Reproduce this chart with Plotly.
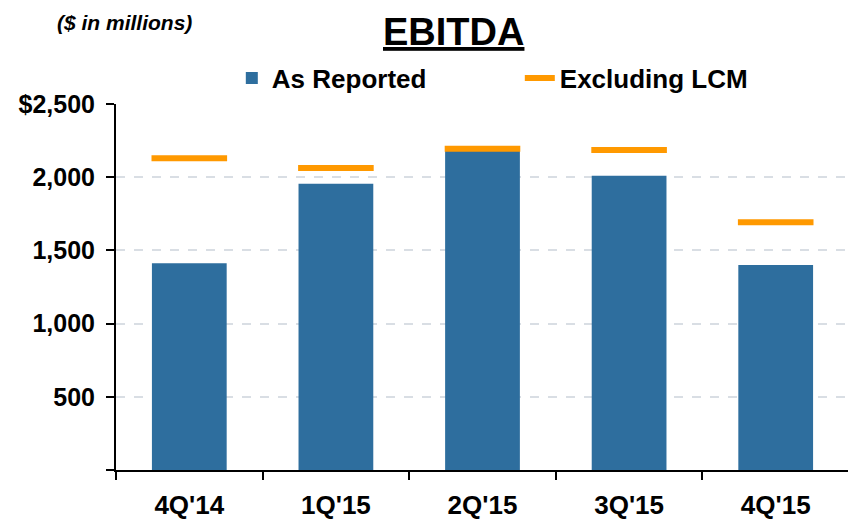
import plotly.graph_objects as go

quarters = ["4Q'14", "1Q'15", "2Q'15", "3Q'15", "4Q'15"]
as_reported = [1412, 1956, 2180, 2010, 1400]
excluding_lcm = [2130, 2062, 2195, 2185, 1693]
y_tick_vals = [0, 500, 1000, 1500, 2000, 2500]
y_tick_text = ["", "500", "1,000", "1,500", "2,000", "$2,500"]

BLUE = "#2E6E9E"
ORANGE = "#FF9900"
FONT = "Liberation Sans, Arial, sans-serif"

fig = go.Figure()
fig.add_trace(go.Bar(
    x=quarters, y=as_reported, name="As Reported",
    marker=dict(color=BLUE, line=dict(width=0)), width=0.51,
))
fig.add_trace(go.Scatter(
    x=quarters, y=excluding_lcm, mode="markers", showlegend=False,
    marker=dict(symbol="line-ew", size=54, color=ORANGE,
                line=dict(color=ORANGE, width=6)),
))
# legend entry for the orange markers
fig.add_trace(go.Scatter(
    x=[None], y=[None], mode="lines", name="Excluding LCM",
    line=dict(color=ORANGE, width=6),
))

# page body has an 8px default margin, so the figure is sized to fill the rest
fig.update_layout(
    width=848, height=511,
    margin=dict(l=108, r=7, t=96, b=49, autoexpand=False),
    paper_bgcolor="white", plot_bgcolor="white",
    font=dict(family=FONT, color="black"),
    showlegend=True,
    legend=dict(
        orientation="h", x=0.158, y=1.071, xanchor="left", yanchor="middle",
        font=dict(size=26, family=FONT, color="black", weight="bold"),
        bgcolor="rgba(0,0,0,0)", entrywidth=243, traceorder="normal",
    ),
    annotations=[
        dict(text="<b><u>EBITDA</u></b>", x=0.461, y=1.197, xref="paper", yref="paper",
             xanchor="center", yanchor="middle", showarrow=False,
             font=dict(size=38, family=FONT, color="black")),
        dict(text="<b><i>($ in millions)</i></b>", x=0.011, y=1.224, xref="paper", yref="paper",
             xanchor="center", yanchor="middle", showarrow=False,
             font=dict(size=21, family=FONT, color="black")),
    ],
)

fig.update_xaxes(
    automargin=False,
    showline=True, linecolor="black", linewidth=2,
    ticks="outside", tickson="boundaries", ticklen=8, tickwidth=2, tickcolor="black",
    tickfont=dict(size=26, family=FONT, color="black", weight="bold"),
    ticklabelstandoff=11,
    showgrid=False,
)
fig.update_yaxes(
    automargin=False,
    range=[0, 2500], showline=True, linecolor="black", linewidth=2,
    tickvals=y_tick_vals, ticktext=y_tick_text,
    ticks="outside", ticklen=8, tickwidth=2, tickcolor="black",
    tickfont=dict(size=25, family=FONT, color="black", weight="bold"),
    ticklabelstandoff=6,
    showgrid=True, gridcolor="#D9DEE4", gridwidth=1.5, griddash="dash",
    zeroline=False,
)

fig.write_html("out.html")
